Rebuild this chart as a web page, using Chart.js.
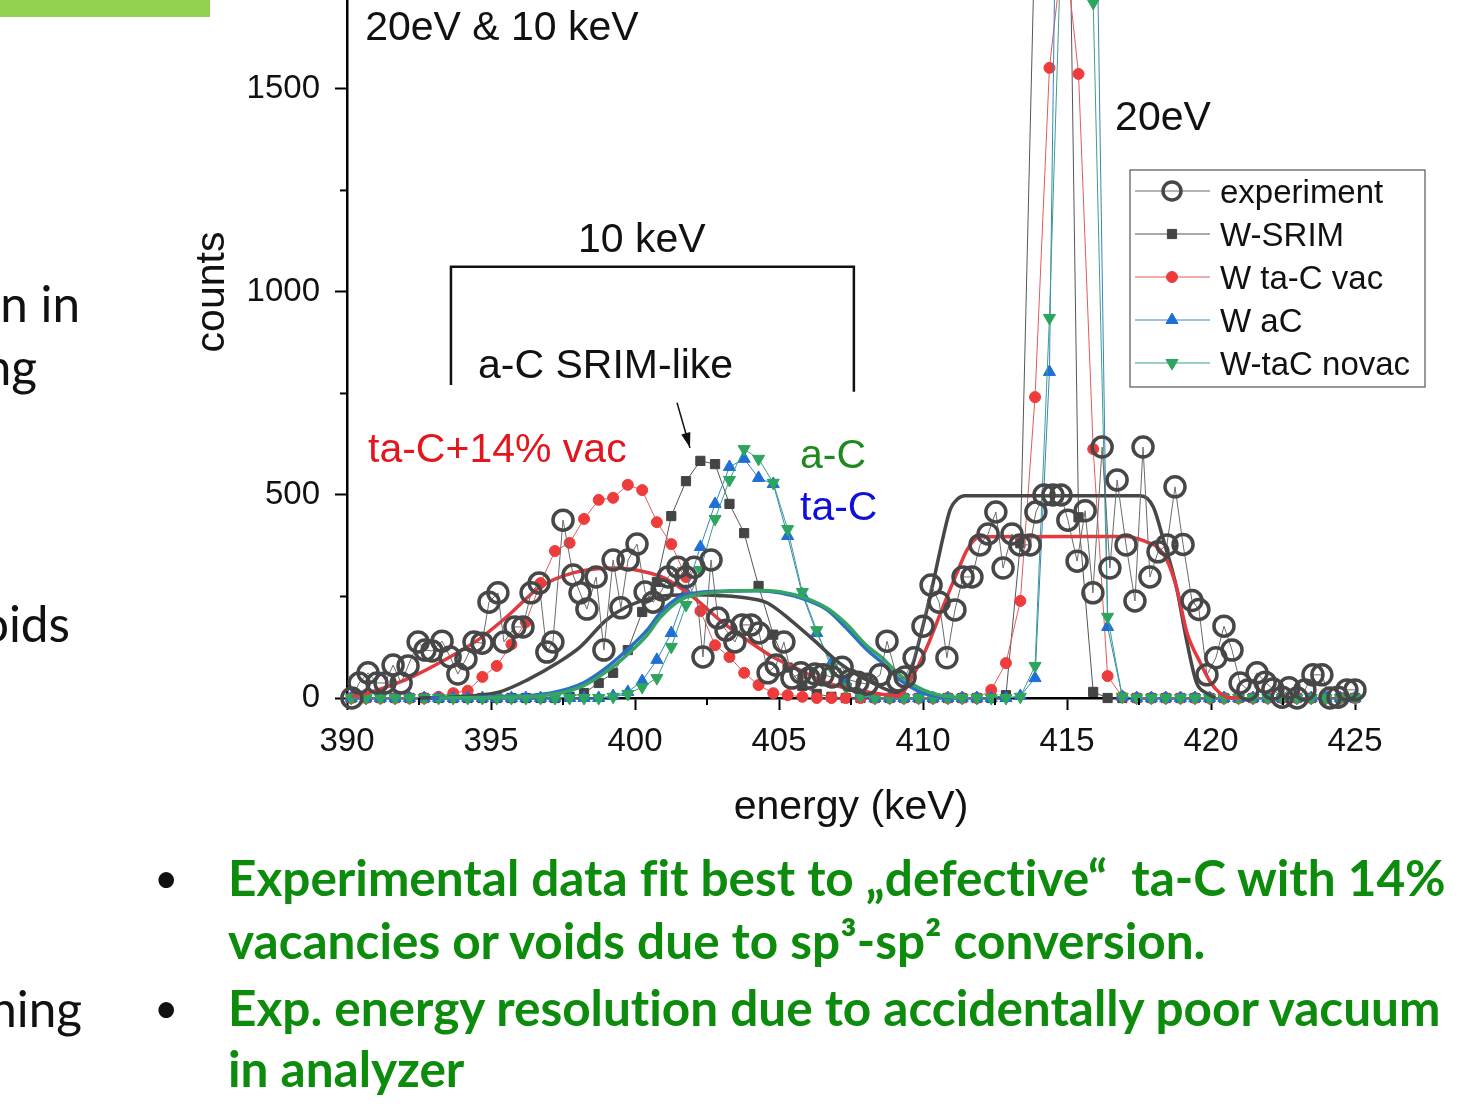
<!DOCTYPE html>
<html>
<head>
<meta charset="utf-8">
<script src="https://cdn.jsdelivr.net/npm/chart.js@4.4.1/dist/chart.umd.min.js"></script>
<style>
  html, body { margin: 0; padding: 0; background: #fff; }
  body { width: 1463px; height: 1119px; position: relative; overflow: hidden; }
  #chart { position: absolute; left: 0; top: 0; }
  .bar { position: absolute; left: 0; top: 0; width: 210px; height: 17px; background: #92d050; }
  .slide { position: absolute; font-family: Lato, 'Open Sans', sans-serif; white-space: pre; line-height: 1; font-variant-ligatures: none; }
  .cut { color: #111; }
  .green { color: #0d8b0d; font-weight: 700; left: 228px; }
  .dot { color: #111; left: 154px; transform: scale(0.85); transform-origin: left center; }
</style>
</head>
<body>
<canvas id="chart" width="1463" height="1119"></canvas>
<div class="bar"></div>
<div class="slide cut" data-base="323" style="right:1383px">n in</div>
<div class="slide cut" data-base="386" style="right:1426px">ng</div>
<div class="slide cut" data-base="643" style="right:1393px">oids</div>
<div class="slide cut" data-base="1028" style="right:1381px">hing</div>
<div class="slide dot" data-base="897">•</div>
<div class="slide green" data-base="897" id="fitLine">Experimental data fit best to „defective“  ta-C with 14%</div>
<div class="slide green" data-base="960">vacancies or voids due to sp³-sp² conversion.</div>
<div class="slide dot" data-base="1027">•</div>
<div class="slide green" data-base="1027">Exp. energy resolution due to accidentally poor vacuum</div>
<div class="slide green" data-base="1088">in analyzer</div>
<script>
// simulated spectra, one value per channel
const simEnergy = [390.15, 390.66, 391.16, 391.67, 392.17, 392.68, 393.18, 393.69, 394.19, 394.70,
  395.20, 395.71, 396.21, 396.72, 397.22, 397.73, 398.23, 398.74, 399.24, 399.75,
  400.25, 400.76, 401.26, 401.77, 402.27, 402.78, 403.28, 403.79, 404.29, 404.80,
  405.30, 405.81, 406.31, 406.82, 407.32, 407.83, 408.33, 408.84, 409.34, 409.85,
  410.35, 410.86, 411.36, 411.87, 412.37, 412.88, 413.38, 413.89, 414.39, 414.90,
  415.40, 415.91, 416.41, 416.92, 417.42, 417.93, 418.43, 418.94, 419.44, 419.95,
  420.45, 420.96, 421.46, 421.97, 422.47, 422.98, 423.48, 423.99, 424.49, 425.00];

const wSrim = [0, 0, 0, 0, 0, 0, 0, 0, 0, 0, 0, 0, 0, 0, 0,
  3, 12, 37, 62, 118, 212, 286, 448, 534, 584, 576, 478, 406, 276, 156, 75, 30, 10, 3,
  0, 0, 0, 0, 0, 0, 0, 0, 0, 0, 0,
  7, 381, 1900, 3500, 2900, 445, 15,
  0, 0, 0, 0, 0, 0, 0, 0, 0, 0, 0, 0, 0, 0, 0, 0, 0, 0];

const wTaCVac = [0, 0, 0, 0, 0, 0,
  3, 12, 18, 52, 79, 132, 187, 283, 362, 382, 441, 488, 493, 525, 512, 433, 379, 298, 214, 130, 101, 62, 32, 12, 7, 3,
  0, 0, 0, 0, 0, 0, 0, 0, 0, 0, 0, 0,
  20, 86, 239, 741, 1552, 1870, 1537, 613, 54, 3,
  0, 0, 0, 0, 0, 0, 0, 0, 0, 0, 0, 0, 0, 0, 0, 0];

const wAC = [0, 0, 0, 0, 0, 0, 0, 0, 0, 0, 0, 0, 0, 0, 0, 0, 0, 0,
  5, 15, 42, 94, 160, 262, 372, 478, 569, 589, 542, 527, 399, 255, 160, 86, 40, 8,
  0, 0, 0, 0, 0, 0, 0, 0, 0, 0,
  5, 49, 803, 3500, 3000, 2500, 175, 3,
  0, 0, 0, 0, 0, 0, 0, 0, 0, 0, 0, 0, 0, 0, 0, 0];

const wTaCNovac = [0, 0, 0, 0, 0, 0, 0, 0, 0, 0, 0, 0, 0, 0, 0, 0, 0, 0,
  3, 10, 27, 49, 126, 229, 315, 441, 537, 613, 589, 530, 416, 261, 167, 74, 27, 5,
  0, 0, 0, 0, 0, 0, 0, 0, 0, 0,
  3, 79, 936, 2100, 2600, 1712, 200, 3,
  0, 0, 0, 0, 0, 0, 0, 0, 0, 0, 0, 0, 0, 0, 0, 0];

// measured spectrum
const expEnergy = [390.17, 390.42, 390.73, 391.04, 391.32, 391.60, 391.88, 392.12, 392.47, 392.71,
  392.95, 393.30, 393.58, 393.85, 394.13, 394.41, 394.69, 394.93, 395.24, 395.45,
  395.83, 396.11, 396.39, 396.67, 396.94, 397.15, 397.50, 397.85, 398.09, 398.33,
  398.65, 398.92, 399.24, 399.51, 399.76, 400.07, 400.35, 400.63, 400.94, 401.15,
  401.49, 401.77, 402.05, 402.36, 402.64, 402.88, 403.16, 403.47, 403.72, 404.03,
  404.31, 404.62, 404.90, 405.17, 405.45, 405.76, 406.04, 406.25, 406.53, 406.84,
  407.19, 407.47, 407.74, 408.06, 408.51, 408.75, 409.13, 409.38, 409.69, 410.00,
  410.28, 410.56, 410.83, 411.11, 411.39, 411.70, 411.98, 412.26, 412.53, 412.78,
  413.09, 413.37, 413.72, 413.92, 414.20, 414.51, 414.79, 415.03, 415.35, 415.63,
  415.90, 416.22, 416.49, 416.74, 417.05, 417.36, 417.64, 417.88, 418.16, 418.47,
  418.75, 419.03, 419.34, 419.58, 419.86, 420.17, 420.45, 420.73, 421.01, 421.28,
  421.60, 421.88, 422.15, 422.47, 422.71, 422.99, 423.26, 423.54, 423.85, 424.13,
  424.41, 424.72, 425.00];
const expCounts = [0, 37, 62, 37, 37, 81, 37, 79, 138, 118,
  116, 140, 101, 59, 96, 138, 135, 236, 259, 138,
  175, 175, 259, 283, 113, 138, 438, 303, 259, 219,
  298, 118, 340, 222, 340, 379, 261, 236, 266, 298,
  322, 298, 322, 101, 340, 197, 167, 138, 180, 180,
  160, 62, 81, 138, 49, 62, 49, 59, 57, 52,
  76, 44, 39, 34, 57, 140, 42, 52, 99, 177,
  278, 236, 99, 217, 298, 298, 377, 404, 458, 320,
  404, 377, 377, 458, 500, 500, 500, 438, 337, 461,
  259, 618, 320, 537, 377, 239, 618, 298, 360, 377,
  520, 378, 240, 218, 57, 99, 177, 118, 37, 20,
  62, 39, 22, 2, 25, 0, 20, 57, 57, 0,
  2, 20, 20];

// simulations folded with the resolution (thick curves)
const srimFoldE = [392.5, 393.5, 394.3, 395.3, 396.25, 397.3, 398.1, 399.0, 399.7, 400.75, 401.9, 402.95,
  404.0, 404.6, 405.4, 406.2, 407.1, 408.25, 409.2, 409.55, 409.9, 410.35, 410.7, 410.95, 411.2,
  411.45, 417.55, 418.0, 418.35, 418.8, 419.15, 419.5, 419.85, 420.15];
const srimFold = [0, 2, 5, 15, 44, 86, 126, 192, 224, 249, 254, 252,
  245, 234, 192, 143, 86, 37, 12, 60, 150, 283, 397, 465, 490,
  498, 498, 470, 389, 273, 143, 37, 12, 0];

const vacFoldE = [390.17, 391.08, 392.26, 393.4, 394.55, 395.55, 396.7, 397.85, 399.3, 400.2, 400.87,
  401.32, 402.15, 403.06, 403.89, 404.79, 405.73, 406.67, 407.71, 408.51, 409.13, 409.65, 410.14,
  410.69, 411.18, 411.53, 411.98, 417.08, 417.78, 418.13, 418.47, 418.82, 419.17, 419.62, 419.97,
  420.31, 420.56, 421.0];
const vacFold = [2, 20, 52, 94, 143, 200, 273, 308, 320, 313, 300,
  283, 241, 185, 143, 101, 69, 37, 20, 10, 5, 55, 126,
  224, 308, 365, 397, 398, 384, 372, 340, 268, 160, 88, 40,
  12, 2, 0];

const acFoldE = [392.9, 395.3, 397.05, 398.2, 399.03, 399.72, 400.42, 400.87, 401.56, 402.15, 403.06,
  404.24, 405.03, 405.97, 406.67, 407.3, 408.06, 408.6, 409.1, 409.5, 410.0, 410.5, 411.0];
const acFold = [0, 3, 12, 37, 76, 118, 167, 209, 249, 259, 263,
  264, 259, 241, 217, 175, 118, 86, 50, 30, 12, 4, 0];

const novacFoldE = [393.2, 395.3, 397.05, 398.2, 399.03, 399.72, 400.42, 400.87, 401.56, 402.15, 403.06,
  404.24, 405.03, 405.97, 406.67, 407.3, 408.06, 408.6, 409.1, 409.5, 410.0, 410.5, 411.3];
const novacFold = [0, 2, 8, 30, 66, 106, 155, 198, 241, 255, 262,
  265, 262, 245, 221, 185, 128, 98, 62, 40, 20, 8, 0];

const energyTicks = [390, 395, 400, 405, 410, 415, 420, 425];
const countTicks = [0, 500, 1000, 1500];
const minorEnergyTicks = [392.5, 397.5, 402.5, 407.5, 412.5, 417.5, 422.5];
const minorCountTicks = [250, 750, 1250];
const legendLabels = ['experiment', 'W-SRIM', 'W ta-C vac', 'W aC', 'W-taC novac'];

const chartFont = "'Liberation Sans', Arial, sans-serif";

const pts = (xs, ys) => xs.map((x, i) => ({ x: x, y: ys[i] }));

function simSet(label, values, color, lineColor, style, radius, rotation) {
  return {
    label: label, data: pts(simEnergy, values),
    borderColor: lineColor, borderWidth: 1, tension: 0,
    pointStyle: style, pointRadius: radius, pointRotation: rotation || 0,
    pointBackgroundColor: color, pointBorderColor: color, pointBorderWidth: 1,
    clip: false
  };
}
function foldSet(label, xs, ys, color) {
  return {
    label: label, data: pts(xs, ys), borderColor: color, borderWidth: 3.5,
    pointRadius: 0, cubicInterpolationMode: 'monotone', clip: false
  };
}

const datasets = [
  {
    label: 'experiment', data: pts(expEnergy, expCounts),
    borderColor: '#6a6a6a', borderWidth: 1, tension: 0,
    pointStyle: 'circle', pointRadius: 10, pointBorderWidth: 3.5,
    pointBorderColor: '#474747', pointBackgroundColor: 'rgba(255,255,255,0)', clip: false
  },
  foldSet('W-taC novac folded', novacFoldE, novacFold, '#35a466'),
  foldSet('W aC folded', acFoldE, acFold, '#2a70c6'),
  foldSet('W ta-C vac folded', vacFoldE, vacFold, '#e4393e'),
  foldSet('W-SRIM folded', srimFoldE, srimFold, '#474747'),
  simSet('W-taC novac', wTaCNovac, '#2ea55e', '#3aa08a', 'triangle', 7, 180),
  simSet('W aC', wAC, '#1f6fd6', '#3b82c6', 'triangle', 7, 0),
  simSet('W ta-C vac', wTaCVac, '#ee3b3b', '#e35b5b', 'circle', 5.5, 0),
  simSet('W-SRIM', wSrim, '#444444', '#555555', 'rect', 6.5, 0)
];

const notes = [
  { text: '20eV & 10 keV', x: 390.63, y: 1621, color: '#111' },
  { text: '20eV', x: 416.67, y: 1399, color: '#111' },
  { text: '10 keV', x: 398.02, y: 1099, color: '#111' },
  { text: 'a-C SRIM-like', x: 394.55, y: 788, color: '#111' },
  { text: 'ta-C+14% vac', x: 390.73, y: 581, color: '#e3161d' },
  { text: 'a-C', x: 405.73, y: 567, color: '#1c8a1c' },
  { text: 'ta-C', x: 405.73, y: 438, color: '#1010d8' }
];

function drawMarker(ctx, ds, x, y) {
  const r = ds.pointRadius;
  ctx.save();
  ctx.translate(x, y);
  ctx.rotate((ds.pointRotation || 0) * Math.PI / 180);
  ctx.beginPath();
  if (ds.pointStyle === 'circle') {
    ctx.arc(0, 0, r, 0, Math.PI * 2);
  } else if (ds.pointStyle === 'rect') {
    const s = r * Math.SQRT1_2;
    ctx.rect(-s, -s, 2 * s, 2 * s);
  } else {
    ctx.moveTo(0, -r);
    ctx.lineTo(r * 0.866, r * 0.5);
    ctx.lineTo(-r * 0.866, r * 0.5);
    ctx.closePath();
  }
  ctx.fillStyle = ds.pointBackgroundColor;
  ctx.fill();
  ctx.lineWidth = ds.pointBorderWidth;
  ctx.strokeStyle = ds.pointBorderColor;
  ctx.stroke();
  ctx.restore();
}

const extras = {
  id: 'extras',
  afterDraw(chart) {
    const { ctx, chartArea: area } = chart;
    const xs = chart.scales.x, ys = chart.scales.y;
    const seg = (x1, y1, x2, y2) => { ctx.beginPath(); ctx.moveTo(x1, y1); ctx.lineTo(x2, y2); ctx.stroke(); };
    ctx.save();
    ctx.strokeStyle = '#000';
    ctx.lineWidth = 2;
    minorEnergyTicks.forEach(v => { const p = xs.getPixelForValue(v); seg(p, area.bottom, p, area.bottom + 7); });
    minorCountTicks.forEach(v => { const p = ys.getPixelForValue(v); seg(area.left - 7, p, area.left, p); });

    // y title
    ctx.fillStyle = '#111';
    ctx.font = '41px ' + chartFont;
    ctx.textAlign = 'center';
    ctx.textBaseline = 'middle';
    ctx.save();
    ctx.translate(213, 292);
    ctx.rotate(-Math.PI / 2);
    ctx.fillText('counts', 0, 0);
    ctx.restore();

    // notes
    ctx.textAlign = 'left';
    ctx.textBaseline = 'alphabetic';
    notes.forEach(n => {
      ctx.fillStyle = n.color;
      ctx.fillText(n.text, xs.getPixelForValue(n.x), ys.getPixelForValue(n.y));
    });

    // bracket over the 10 keV part
    ctx.strokeStyle = '#111';
    ctx.lineWidth = 2.5;
    const bl = xs.getPixelForValue(393.61), br = xs.getPixelForValue(407.6);
    const bt = ys.getPixelForValue(1062);
    ctx.beginPath();
    ctx.moveTo(bl, ys.getPixelForValue(771));
    ctx.lineTo(bl, bt);
    ctx.lineTo(br, bt);
    ctx.lineTo(br, ys.getPixelForValue(754));
    ctx.stroke();

    // arrow to the SRIM-like peak
    const ax1 = xs.getPixelForValue(401.46), ay1 = ys.getPixelForValue(727);
    const ax2 = xs.getPixelForValue(401.91), ay2 = ys.getPixelForValue(616);
    ctx.lineWidth = 1.5;
    seg(ax1, ay1, ax2, ay2);
    const ang = Math.atan2(ay2 - ay1, ax2 - ax1);
    ctx.fillStyle = '#111';
    ctx.beginPath();
    ctx.moveTo(ax2, ay2);
    ctx.lineTo(ax2 - 16 * Math.cos(ang - 0.3), ay2 - 16 * Math.sin(ang - 0.3));
    ctx.lineTo(ax2 - 16 * Math.cos(ang + 0.3), ay2 - 16 * Math.sin(ang + 0.3));
    ctx.closePath();
    ctx.fill();

    // legend
    ctx.fillStyle = '#fff';
    ctx.fillRect(1130, 170, 295, 217);
    ctx.strokeStyle = '#555';
    ctx.lineWidth = 1.2;
    ctx.strokeRect(1130, 170, 295, 217);
    ctx.font = '33px ' + chartFont;
    ctx.textBaseline = 'middle';
    legendLabels.forEach((label, i) => {
      const ds = chart.data.datasets.find(d => d.label === label);
      const ry = 191 + i * 43;
      ctx.strokeStyle = ds.borderColor;
      ctx.lineWidth = 1;
      seg(1135, ry, 1210, ry);
      drawMarker(ctx, Object.assign({}, ds, { pointRadius: Math.min(ds.pointRadius, 9) }), 1172, ry);
      ctx.fillStyle = '#111';
      ctx.fillText(label, 1220, ry + 3);
    });
    ctx.restore();
  }
};

new Chart(document.getElementById('chart').getContext('2d'), {
  type: 'line',
  data: { datasets: datasets },
  options: {
    responsive: false,
    animation: false,
    events: [],
    layout: { autoPadding: false, padding: { left: 0, top: 0, right: 108, bottom: 287 } },
    plugins: { legend: { display: false }, tooltip: { enabled: false } },
    scales: {
      x: {
        type: 'linear', min: 390, max: 425,
        afterBuildTicks: s => { s.ticks = energyTicks.map(v => ({ value: v })); },
        afterFit: s => { s.height = 134; s.paddingLeft = 0; s.paddingRight = 0; },
        ticks: { autoSkip: false, maxRotation: 0, padding: 12, color: '#111',
          callback: v => String(v), font: { family: chartFont, size: 33 } },
        grid: { drawOnChartArea: false, drawTicks: true, tickLength: 12, tickWidth: 2, tickColor: '#000' },
        border: { display: true, color: '#000', width: 2.5 },
        title: { display: true, text: 'energy (keV)', color: '#111', padding: 0,
          font: { family: chartFont, size: 41 } }
      },
      y: {
        type: 'linear', min: 0, max: 1719,
        afterBuildTicks: s => { s.ticks = countTicks.map(v => ({ value: v })); },
        afterFit: s => { s.width = 347; s.paddingTop = 0; s.paddingBottom = 0; },
        ticks: { autoSkip: false, padding: 15, color: '#111', callback: v => String(v),
          font: { family: chartFont, size: 33 } },
        grid: { drawOnChartArea: false, drawTicks: true, tickLength: 12, tickWidth: 2, tickColor: '#000' },
        border: { display: true, color: '#000', width: 2.5 }
      }
    }
  },
  plugins: [extras]
});

// slide text: fit the font to the width of the first bullet line
const probe = document.createElement('canvas').getContext('2d');
probe.font = 'bold 100px Lato';
const fitSize = 100 * 1219 / probe.measureText(document.getElementById('fitLine').textContent).width;
document.querySelectorAll('.slide').forEach(el => {
  el.style.fontSize = fitSize + 'px';
  el.style.top = (Number(el.dataset.base) - 0.887 * fitSize) + 'px';
});
</script>
</body>
</html>
